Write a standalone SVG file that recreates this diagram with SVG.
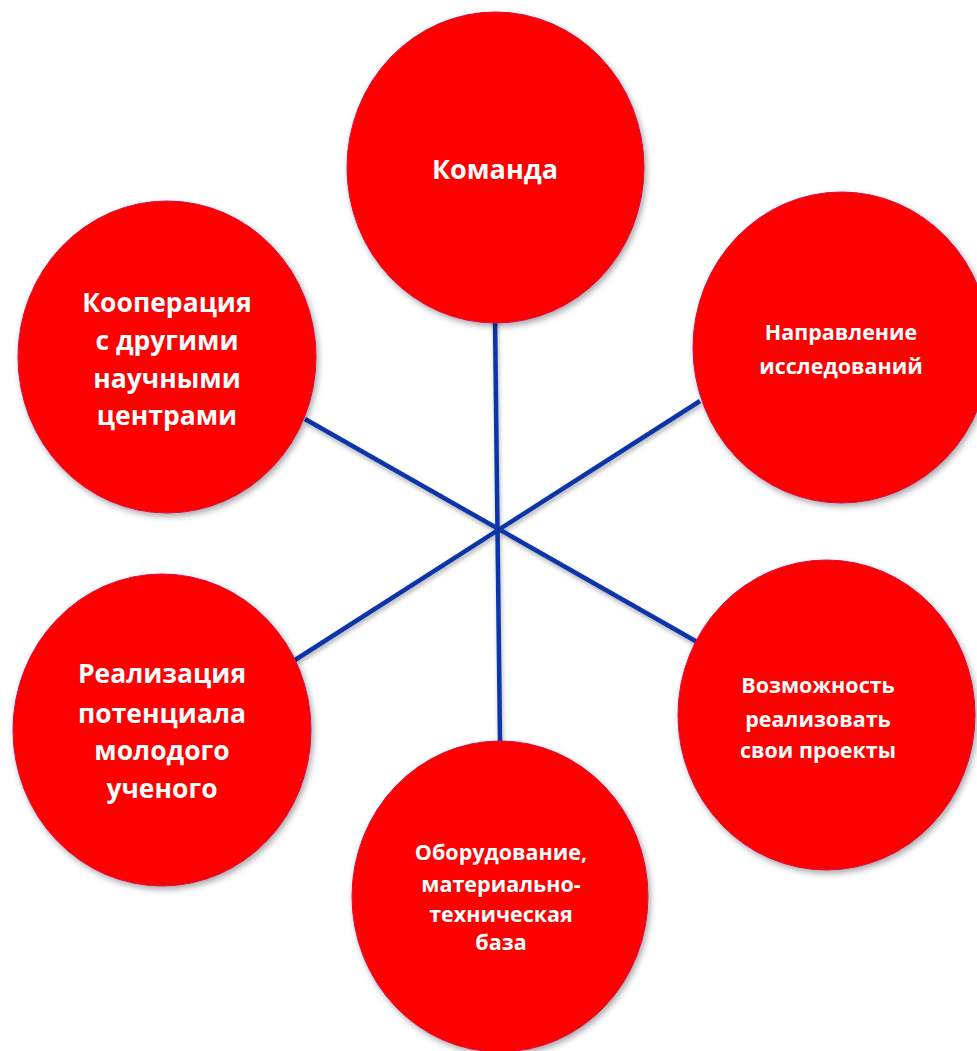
<svg xmlns="http://www.w3.org/2000/svg" width="977" height="1051" viewBox="0 0 977 1051">
  <defs>
    <filter id="sh" x="-20%" y="-20%" width="140%" height="140%">
      <feDropShadow dx="2" dy="3" stdDeviation="3" flood-color="#000" flood-opacity="0.35"/>
    </filter>
    <filter id="lsh" x="-20%" y="-20%" width="140%" height="140%">
      <feDropShadow dx="1" dy="3" stdDeviation="2" flood-color="#000" flood-opacity="0.3"/>
    </filter>
  </defs>
  <style>
    .c { fill: #fd0000; stroke: #d0104a; stroke-width: 1; filter: url(#sh); }
    .l { stroke: #0a35a8; stroke-width: 4.5; stroke-linecap: butt; }
    .t { fill: #ffffff; font-family: "Open Sans", "Liberation Sans", sans-serif; font-weight: 700; text-anchor: middle; }
    .big { font-size: 26.5px; }
    .sm { font-size: 21.5px; }
  </style>
  <rect width="977" height="1051" fill="#ffffff"/>
  <g id="connectors" filter="url(#lsh)">
    <line class="l" x1="495" y1="318" x2="500" y2="742"/>
    <line class="l" x1="305" y1="419" x2="699" y2="643"/>
    <line class="l" x1="295" y1="660" x2="700" y2="401"/>
  </g>
  <g id="n-komanda">
    <ellipse class="c" cx="495.5" cy="167.5" rx="148.5" ry="155.5"/>
    <text class="t big" x="495" y="179" style="font-size:27px">Команда</text>
  </g>
  <g id="n-napravlenie">
    <ellipse class="c" cx="841.5" cy="347.5" rx="148.5" ry="155.5"/>
    <text class="t sm" x="841" y="340">Направление</text>
    <text class="t sm" x="841" y="374">исследований</text>
  </g>
  <g id="n-kooperacia">
    <ellipse class="c" cx="167" cy="357" rx="149" ry="156"/>
    <text class="t big" x="167" y="312">Кооперация</text>
    <text class="t big" x="167" y="350">с другими</text>
    <text class="t big" x="167" y="388">научными</text>
    <text class="t big" x="167" y="425">центрами</text>
  </g>
  <g id="n-realizacia">
    <ellipse class="c" cx="162" cy="730" rx="149" ry="156"/>
    <text class="t big" x="162" y="683">Реализация</text>
    <text class="t big" x="162" y="723">потенциала</text>
    <text class="t big" x="162" y="760">молодого</text>
    <text class="t big" x="162" y="798">ученого</text>
  </g>
  <g id="n-vozmozhnost">
    <ellipse class="c" cx="826.5" cy="715" rx="148.5" ry="155"/>
    <text class="t sm" x="818" y="693">Возможность</text>
    <text class="t sm" x="818" y="727">реализовать</text>
    <text class="t sm" x="818" y="758">свои проекты</text>
  </g>
  <g id="n-oborudovanie">
    <ellipse class="c" cx="500" cy="896.5" rx="148" ry="155.5"/>
    <text class="t sm" x="501" y="860">Оборудование,</text>
    <text class="t sm" x="501" y="892">материально-</text>
    <text class="t sm" x="501" y="922">техническая</text>
    <text class="t sm" x="501" y="950">база</text>
  </g>
</svg>
